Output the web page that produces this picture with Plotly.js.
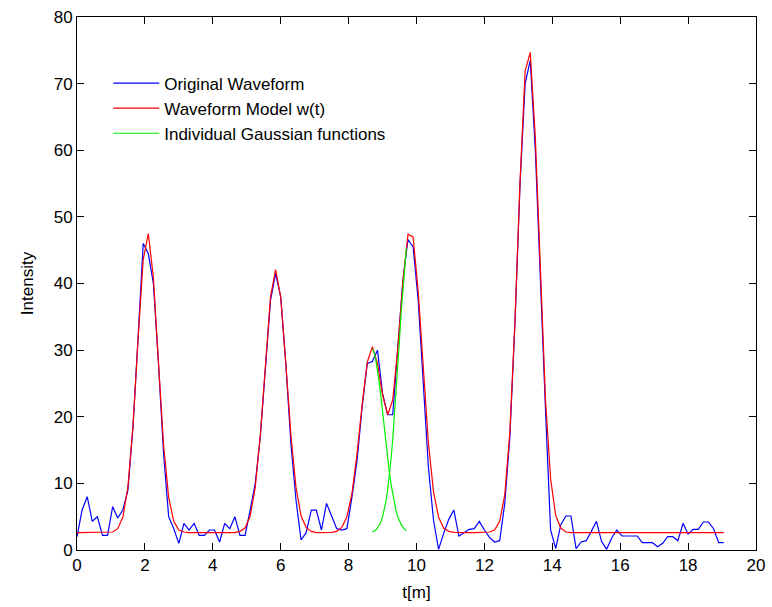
<!DOCTYPE html>
<html><head><meta charset="utf-8">
<script src="https://cdn.plot.ly/plotly-3.0.1.min.js"></script>
<style>html,body{margin:0;padding:0;background:#fff}#chart{width:772px;height:607px}</style>
</head><body><div id="chart"></div>
<script>
// sample positions t[m]
const t = [0.00,0.15,0.30,0.45,0.60,0.75,0.90,1.05,1.20,1.35,1.50,1.65,1.80,1.95,2.10,2.25,2.40,2.55,2.70,2.85,
  3.00,3.15,3.30,3.45,3.60,3.75,3.90,4.05,4.20,4.35,4.50,4.65,4.80,4.95,5.10,5.25,5.40,5.55,5.70,5.85,
  6.00,6.15,6.30,6.45,6.60,6.75,6.90,7.05,7.20,7.35,7.50,7.65,7.80,7.95,8.10,8.25,8.40,8.55,8.70,8.85,
  9.00,9.15,9.30,9.45,9.60,9.75,9.90,10.05,10.20,10.35,10.50,10.65,10.80,10.95,11.10,11.25,11.40,11.55,11.70,11.85,
  12.00,12.15,12.30,12.45,12.60,12.75,12.90,13.05,13.20,13.35,13.50,13.65,13.80,13.95,14.10,14.25,14.40,14.55,14.70,14.85,
  15.00,15.15,15.30,15.45,15.60,15.75,15.90,16.05,16.20,16.35,16.50,16.65,16.80,16.95,17.10,17.25,17.40,17.55,17.70,17.85,
  18.00,18.15,18.30,18.45,18.60,18.75,18.90,19.05];

// Original waveform (blue)
const originalWaveform = [2.0,6.0,8.0,4.3,5.0,2.2,2.2,6.5,4.8,6.0,9.0,18.5,32.0,46.0,44.5,40.0,28.0,14.5,5.0,3.2,
  1.0,4.0,3.0,4.0,2.2,2.2,3.0,3.0,1.2,4.0,3.2,5.0,2.2,2.2,6.0,10.0,17.0,28.0,37.5,41.5,
  38.0,28.0,16.0,7.5,1.5,2.6,6.0,6.0,3.0,7.0,5.0,3.2,3.0,3.2,8.0,13.5,21.5,28.0,28.3,30.0,
  23.5,20.3,20.3,31.0,40.5,46.6,45.5,37.5,24.5,12.5,4.5,0.1,2.5,4.6,6.0,2.1,2.6,3.1,3.2,4.3,
  3.0,1.9,1.2,1.4,7.0,17.0,34.0,55.0,70.0,73.5,60.0,39.0,21.0,3.0,0.2,3.8,5.1,5.1,0.2,1.2,
  1.4,2.8,4.3,1.3,0.1,1.8,3.0,2.1,2.1,2.1,2.1,1.1,1.1,1.1,0.5,1.0,2.0,2.0,1.4,4.0,
  2.4,3.1,3.1,4.2,4.2,3.2,1.1,1.1];

// Waveform model w(t) (red)
const waveformModel = [2.6,2.6,2.6,2.6,2.6,2.6,2.6,2.7,3.2,4.9,9.5,18.7,31.7,43.6,47.5,40.9,28.1,15.8,7.9,4.3,
  3.0,2.7,2.6,2.6,2.6,2.6,2.6,2.6,2.6,2.6,2.6,2.6,2.8,3.3,5.1,9.4,17.3,28.1,38.0,42.1,
  38.0,28.1,17.3,9.4,5.1,3.4,2.8,2.6,2.6,2.6,2.65,2.8,3.4,5.0,8.5,14.5,21.9,28.2,30.5,28.0,
  23.3,20.3,22.5,30.3,40.4,47.4,47.0,38.8,27.0,16.1,8.8,4.9,3.3,2.8,2.65,2.6,2.6,2.6,2.6,2.6,
  2.6,2.7,3.0,4.3,8.3,17.7,34.3,55.3,71.9,74.7,61.9,41.2,22.5,10.7,5.2,3.3,2.7,2.6,2.6,2.6,
  2.6,2.6,2.6,2.6,2.6,2.6,2.6,2.6,2.6,2.6,2.6,2.6,2.6,2.6,2.6,2.6,2.6,2.6,2.6,2.6,
  2.6,2.6,2.6,2.6,2.6,2.6,2.6,2.6];

// Individual Gaussian functions (green), shown between the 3rd and 4th peaks
const gaussT = [8.70,8.75,8.80,8.85,8.90,8.95,9.00,9.05,9.10,9.15,9.20,9.25,9.30,9.35,9.40,9.45,9.50,9.55,9.60,9.65,9.70];
const gaussian1 = [30.2,29.7,28.6,27.1,25.2,23.1,20.7,18.3,16.0,13.7,11.7,9.9,8.3,6.9,5.8,5.0,4.3,3.8,3.4,3.1,2.9];
const gaussian2 = [2.7,2.8,3.0,3.3,3.7,4.2,5.0,6.0,7.3,9.0,11.1,13.7,16.6,20.0,23.7,27.7,31.7,35.7,39.4,42.7,45.3];

const xTicks = [0,2,4,6,8,10,12,14,16,18,20];
const yTicks = [0,10,20,30,40,50,60,70,80];

const FONT = 'Liberation Sans, Arial, Helvetica, sans-serif';

const traces = [
  {x: t, y: originalWaveform, type: 'scatter', mode: 'lines', name: 'Original Waveform',
   line: {color: '#0000ff', width: 1.2}},
  {x: t, y: waveformModel, type: 'scatter', mode: 'lines', name: 'Waveform Model w(t)',
   line: {color: '#ff0000', width: 1.2}},
  {x: gaussT, y: gaussian1, type: 'scatter', mode: 'lines', name: 'Individual Gaussian functions',
   legendgroup: 'g', line: {color: '#00ee00', width: 1.2}},
  {x: gaussT, y: gaussian2, type: 'scatter', mode: 'lines', name: 'Individual Gaussian functions',
   legendgroup: 'g', showlegend: false, line: {color: '#00ee00', width: 1.2}}
];

const axisCommon = {
  showline: true, linecolor: '#000', linewidth: 1, mirror: 'ticks',
  ticks: 'inside', ticklen: 7, tickcolor: '#000', tickwidth: 1,
  showgrid: false, zeroline: false,
  tickfont: {family: FONT, size: 17, color: '#000'}
};

const layout = {
  width: 772, height: 607,
  margin: {l: 77, r: 16, t: 16.5, b: 56.5},
  paper_bgcolor: '#fff', plot_bgcolor: '#fff',
  font: {family: FONT, size: 17, color: '#000'},
  showlegend: true,
  xaxis: Object.assign({}, axisCommon, {
    range: [0, 20], tickmode: 'array', tickvals: xTicks, ticktext: xTicks.map(String),
    title: {text: 't[m]', font: {family: FONT, size: 17, color: '#000'}, standoff: 11}
  }),
  yaxis: Object.assign({}, axisCommon, {
    range: [0, 80], tickmode: 'array', tickvals: yTicks, ticktext: yTicks.map(String),
    title: {text: 'Intensity', font: {family: FONT, size: 17, color: '#000'}, standoff: 15}
  }),
  legend: {
    x: 0.046, y: 0.909, xanchor: 'left', yanchor: 'top',
    bgcolor: 'rgba(255,255,255,0)', borderwidth: 0,
    font: {family: FONT, size: 17, color: '#000'},
    itemwidth: 46, tracegroupgap: 0
  }
};

Plotly.newPlot('chart', traces, layout, {staticPlot: true, displayModeBar: false});
</script>
</body></html>
